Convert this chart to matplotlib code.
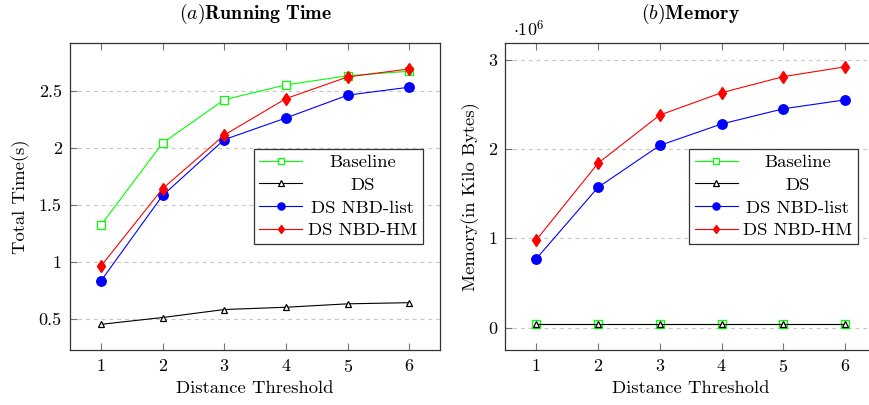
import matplotlib
matplotlib.use("Agg")
import matplotlib.pyplot as plt
from matplotlib.ticker import FuncFormatter, FixedLocator

plt.rcParams["font.family"] = ["cmr10", "DejaVu Serif"]
plt.rcParams["mathtext.fontset"] = "cm"
plt.rcParams["axes.formatter.use_mathtext"] = True
plt.rcParams["font.size"] = 13

# Distance thresholds
thresholds = [1, 2, 3, 4, 5, 6]

# Running time (s)
time_baseline = [1.32, 2.04, 2.42, 2.55, 2.63, 2.67]
time_ds = [0.45, 0.51, 0.58, 0.60, 0.63, 0.64]
time_nbd_list = [0.83, 1.58, 2.07, 2.26, 2.46, 2.53]
time_nbd_hm = [0.96, 1.64, 2.11, 2.43, 2.62, 2.69]

# Memory (kilobytes)
mem_baseline = [40000, 40000, 40000, 40000, 40000, 40000]
mem_ds = [40000, 40000, 40000, 40000, 40000, 40000]
mem_nbd_list = [770000, 1570000, 2040000, 2280000, 2450000, 2550000]
mem_nbd_hm = [980000, 1840000, 2380000, 2630000, 2810000, 2920000]

series_names = ["Baseline", "DS", "DS NBD-list", "DS NBD-HM"]

styles = [
    dict(color=(0, 1, 0), marker="s", markersize=5.8, markerfacecolor="white",
         markeredgecolor=(0, 1, 0), markeredgewidth=0.9),
    dict(color="black", marker="^", markersize=5, markerfacecolor="white",
         markeredgecolor="black", markeredgewidth=0.9),
    dict(color=(0, 0, 1), marker="o", markersize=6.8, markerfacecolor=(0, 0, 1),
         markeredgecolor=(0, 0, 1)),
    dict(color=(1, 0, 0), marker="d", markersize=6.0, markerfacecolor=(1, 0, 0),
         markeredgecolor=(1, 0, 0)),
]

fig = plt.figure(figsize=(8.7, 4.05), dpi=100)
ax1 = fig.add_axes([0.0805, 0.1358, 0.4256, 0.7588])
ax2 = fig.add_axes([0.5808, 0.1358, 0.4261, 0.7588])


def style_axes(ax):
    ax.set_xlim(0.5, 6.5)
    ax.xaxis.set_major_locator(FixedLocator(thresholds))
    ax.tick_params(direction="in", top=True, right=True, length=5,
                   width=0.8, color="0.45", labelsize=13, pad=6)
    ax.tick_params(axis="y", right=False)
    for sp in ax.spines.values():
        sp.set_color("0.2")
        sp.set_linewidth(0.9)
    ax.grid(axis="y", linestyle=(0, (3.5, 3.5)), color="0.78", linewidth=0.8)
    ax.set_axisbelow(True)
    ax.set_xlabel("Distance Threshold", fontsize=13.4, labelpad=4)


def center_legend(ax):
    leg = ax.legend(loc="center", bbox_to_anchor=(0.724, 0.5), fontsize=13.4,
                    fancybox=False, framealpha=1, edgecolor="0.2",
                    handlelength=2.3, handletextpad=0.3, labelspacing=0.36,
                    borderpad=0.3, borderaxespad=0, markerscale=0.75)
    leg.get_frame().set_linewidth(0.9)
    return leg


# (a) Running time
for vals, name, st in zip([time_baseline, time_ds, time_nbd_list, time_nbd_hm],
                          series_names, styles):
    ax1.plot(thresholds, vals, linewidth=0.8, label=name, **st)
style_axes(ax1)
ax1.set_ylim(0.225, 2.92)
ax1.yaxis.set_major_locator(FixedLocator([0.5, 1, 1.5, 2, 2.5]))
ax1.yaxis.set_major_formatter(FuncFormatter(lambda v, p: f"{v:g}"))
ax1.set_ylabel("Total Time(s)", fontsize=13.4, labelpad=6)
ax1.set_title(r"$(a)\mathbf{Running\ Time}$", fontsize=14.3, pad=17)
leg1 = center_legend(ax1)

# (b) Memory
for vals, name, st in zip([mem_baseline, mem_ds, mem_nbd_list, mem_nbd_hm],
                          series_names, styles):
    ax2.plot(thresholds, vals, linewidth=0.8, label=name, **st)
style_axes(ax2)
ax2.set_ylim(-0.25e6, 3.19e6)
ax2.yaxis.set_major_locator(FixedLocator([0, 1e6, 2e6, 3e6]))
ax2.yaxis.set_major_formatter(FuncFormatter(lambda v, p: f"{v / 1e6:g}"))
ax2.set_ylabel("Memory(in Kilo Bytes)", fontsize=13.4, labelpad=6)
ax2.set_title(r"$(b)\mathbf{Memory}$", fontsize=14.3, pad=17)
ax2.text(0.02, 1.01, r"$\cdot 10^{6}$", transform=ax2.transAxes,
         fontsize=13, ha="left", va="bottom")
leg2 = center_legend(ax2)

# Center the legend labels within their column
fig.canvas.draw()
renderer = fig.canvas.get_renderer()
for leg in (leg1, leg2):
    texts = leg.get_texts()
    widths = [t.get_window_extent(renderer).width for t in texts]
    wmax = max(widths)
    for t, w in zip(texts, widths):
        t.set_x((wmax - w) / 2)

fig.savefig("out.png", dpi=100)
